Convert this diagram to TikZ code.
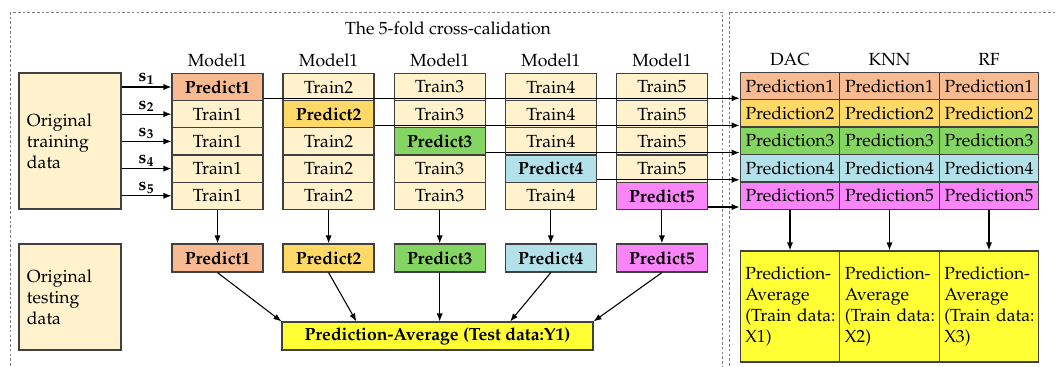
\documentclass[tikz,border=0pt]{standalone}
\usepackage[T1]{fontenc}
\usepackage{mathpazo}
\usetikzlibrary{calc,arrows.meta,positioning,math}

% one pixel of the layout
\def\pxu{0.02cm}
\newcommand{\figfont}{\fontsize{10}{12}\selectfont}

\definecolor{traincol}{HTML}{FFF2CC}
\definecolor{predA}{HTML}{F8BA90}
\definecolor{predB}{HTML}{FFD966}
\definecolor{predC}{HTML}{85D563}
\definecolor{predD}{HTML}{B3E1EA}
\definecolor{predE}{HTML}{F985F9}
\definecolor{avgcol}{HTML}{FFFF33}
\definecolor{edgecol}{HTML}{404040}

\tikzset{
  box/.style={draw=edgecol, line width=0.7pt, fill=traincol, inner sep=0pt, font=\figfont},
  cell/.style={box, minimum width=91*\pxu, minimum height=27.2*\pxu},
  tcell/.style={box, minimum width=99.5*\pxu, minimum height=27.4*\pxu},
  databox/.style={box, minimum width=102*\pxu, inner sep=8*\pxu, text width=86*\pxu, align=left},
  arr/.style={-{Latex[length=4.5pt,width=3.5pt]}, line width=0.6pt},
  frame/.style={draw=gray, line width=0.5pt, dash pattern=on 1.5pt off 1.2pt},
}

\begin{document}
\begin{tikzpicture}[x=\pxu, y=-\pxu]

\useasboundingbox (0,0) rectangle (1056,367);

% Dashed frames (left: cross-validation, right: stacking)
\draw[frame] (10,12) rectangle (722,375);
\draw[frame] (729,12) rectangle (1070,375);

\node[font=\figfont] (title) at (448,28) {The 5-fold cross-calidation};

% Original data
\node[databox, minimum height=136*\pxu] (train) at (70,141) {Original\\training\\data};
\node[databox, minimum height=106*\pxu] (test) at (70,297) {Original\\testing\\data};

% Averaged test prediction
\node[box, fill=avgcol, minimum width=311*\pxu, minimum height=28*\pxu, font=\figfont\bfseries] (avg) at (437.5,336) {Prediction-Average (Test data:Y1)};

% Five folds
\foreach \c/\col in {1/predA,2/predB,3/predC,4/predD,5/predE}{
   \tikzmath{
      \cx = 217.5+111.1*(\c-1);
   }
   \foreach \r in {1,...,5}{
      \tikzmath{
         \cy = 87+27.2*(\r-1);
      }
      \ifnum\r=\c
         \node[cell, fill=\col, font=\figfont\bfseries] (cell-\c-\r) at (\cx,\cy) {Predict\c};
      \else
         \node[cell] (cell-\c-\r) at (\cx,\cy) {Train\c};
      \fi
   }
   \node[above=0pt of cell-\c-1, font=\figfont] (model-\c) {Model1};
   % Prediction of the test data
   \node[cell, minimum height=28*\pxu, fill=\col, font=\figfont\bfseries] (out-\c) at (\cx,258) {Predict\c};
   \draw[arr] (cell-\c-5) -- (out-\c);
}

% Split of the training data
\foreach \r in {1,...,5}{
   \draw[arr] (train.east |- cell-1-\r) -- node[above, inner sep=1pt, font=\figfont] (s-\r) {$\mathbf{s_{\r}}$} (cell-1-\r.west);
}

% Table of the three base models
\foreach \m/\name in {1/DAC,2/KNN,3/RF}{
   \tikzmath{
      \mx = 790+99.5*(\m-1);
   }
   \foreach \r/\col in {1/predA,2/predB,3/predC,4/predD,5/predE}{
      \tikzmath{
         \my = 86+27.4*(\r-1);
      }
      \node[tcell, fill=\col] (pred-\m-\r) at (\mx,\my) {Prediction\r};
   }
   \node[above=0pt of pred-\m-1, font=\figfont] (head-\m) {\name};
   \node[box, fill=avgcol, minimum width=99.5*\pxu, minimum height=111*\pxu, inner sep=5*\pxu, text width=89.5*\pxu, align=left] (tavg-\m) at (\mx,306.5) {Prediction-\\Average\\(Train~data:\\X\m)};
   \draw[arr] (pred-\m-5) -- (tavg-\m);
}

% Out-of-fold predictions into the table
\foreach \c in {1,...,5}{
   \path (cell-\c-\c.south east) ++(0,-3) coordinate (o-\c);
   \draw[arr] (o-\c) -- (o-\c -| pred-1-\c.west);
}

% Test predictions into the average
\coordinate (in-2) at ($(avg.north west)!0.24!(avg.north east)$);
\coordinate (in-4) at ($(avg.north west)!0.733!(avg.north east)$);
\draw[arr] (out-1.south) -- (avg.north west);
\draw[arr] (out-2.south) -- (in-2);
\draw[arr] (out-3.south) -- (out-3.south |- avg.north);
\draw[arr] (out-4.south) -- (in-4);
\draw[arr] (out-5.south) -- (avg.north east);

\end{tikzpicture}
\end{document}
